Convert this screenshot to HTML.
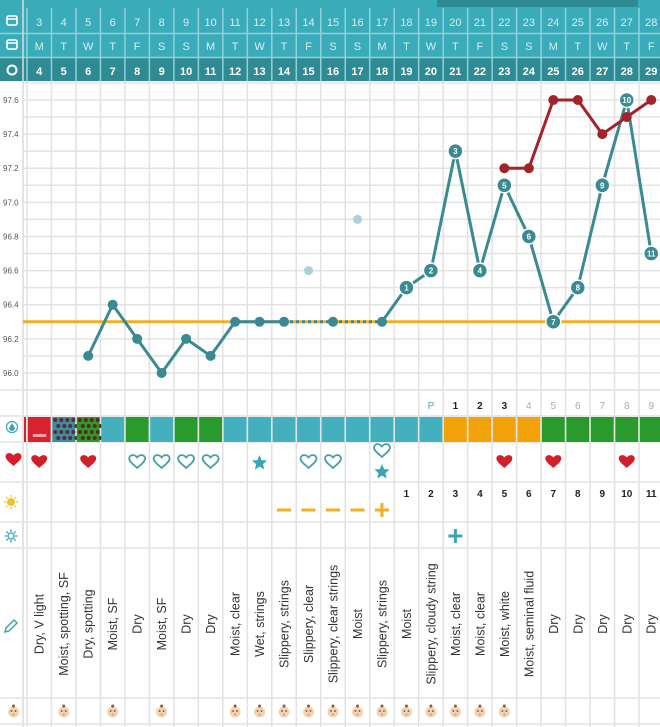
<!DOCTYPE html>
<html><head><style>
body{margin:0;background:#fff;}
svg{display:block;font-family:"Liberation Sans",sans-serif;}
</style></head><body>
<svg width="660" height="727" viewBox="0 0 660 727" xmlns="http://www.w3.org/2000/svg">
<rect x="0" y="0" width="660" height="81" fill="#3aabb8"/>
<rect x="437" y="0" width="201" height="7" fill="#2e8a93"/>
<rect x="0" y="58" width="660" height="23" fill="#2e8a93"/>
<line x1="0" y1="33.5" x2="660" y2="33.5" stroke="#8fd2da" stroke-width="1.5"/>
<line x1="0" y1="57.5" x2="660" y2="57.5" stroke="#8fd2da" stroke-width="1.5"/>
<g id="g"></g>
</svg>
<script>
const S='http://www.w3.org/2000/svg',g=document.getElementById('g');
function el(t,a,txt){const e=document.createElementNS(S,t);for(const k in a)e.setAttribute(k,a[k]);if(txt!==undefined)e.textContent=txt;g.appendChild(e);return e;}
const W=24.48,X0=27,cx=i=>X0+W/2+i*W,ty=t=>100+(97.6-t)*170.6;
for(let i=0;i<=26;i++){const x=X0+i*W;el('line',{x1:x,y1:8,x2:x,y2:81,stroke:'#8fd2da','stroke-width':1.5});el('line',{x1:x,y1:81,x2:x,y2:727,stroke:'#e2e2e2','stroke-width':1.5});}
el('line',{x1:23,y1:0,x2:23,y2:727,stroke:'#dcdcdc','stroke-width':1.5});
for(let k=-1;k<=17;k++){const y=100+k*17.06;el('line',{x1:23,y1:y,x2:660,y2:y,stroke:'#e2e2e2','stroke-width':1.5});}
[390,416,442,482,522,548,698,724].forEach(y=>el('line',{x1:0,y1:y,x2:660,y2:y,stroke:'#e2e2e2','stroke-width':1.5}));
const days=[3,4,5,6,7,8,9,10,11,12,13,14,15,16,17,18,19,20,21,22,23,24,25,26,27,28];
const wd='MTWTFSSMTWTFSSMTWTFSSMTWTF';
for(let i=0;i<26;i++){
el('text',{x:cx(i),y:26,'text-anchor':'middle','font-size':11,fill:'#d5f0f3'},days[i]);
el('text',{x:cx(i),y:50,'text-anchor':'middle','font-size':11,fill:'#d5f0f3'},wd[i]);
el('text',{x:cx(i),y:75,'text-anchor':'middle','font-size':11,'font-weight':'bold',fill:'#fff'},i+4);}
[[12,21],[12,45]].forEach(([x,y])=>{el('rect',{x:x-5,y:y-5,width:10,height:9,rx:1.5,fill:'none',stroke:'#fff','stroke-width':1.6});el('line',{x1:x-5,y1:y-2,x2:x+5,y2:y-2,stroke:'#fff','stroke-width':1.5});});
el('circle',{cx:12,cy:70,r:4.5,fill:'none',stroke:'#fff','stroke-width':2});
for(let k=0;k<=8;k++){const t=(97.6-k*0.2).toFixed(1);el('text',{x:3,y:ty(t)+3,'font-size':8,fill:'#555'},t);}
el('line',{x1:23,y1:ty(96.3),x2:660,y2:ty(96.3),stroke:'#f0b020','stroke-width':3});
const T=[null,null,96.1,96.4,96.2,96.0,96.2,96.1,96.3,96.3,96.3,null,96.3,null,96.3,96.5,96.6,97.3,96.6,97.1,96.8,96.3,96.5,97.1,97.6,96.7];
const TC='#3b8a93';
function seg(a,b,d){el('line',{x1:cx(a),y1:ty(T[a]),x2:cx(b),y2:ty(T[b]),stroke:TC,'stroke-width':3,'stroke-dasharray':d||''});}
for(let i=2;i<10;i++)seg(i,i+1);
seg(10,12,'3,3');seg(12,14,'3,3');
for(let i=14;i<25;i++)seg(i,i+1);
const R={19:97.2,20:97.2,21:97.6,22:97.6,23:97.4,24:97.5,25:97.6};
const RC='#a3232b';
for(let i=19;i<25;i++)el('line',{x1:cx(i),y1:ty(R[i]),x2:cx(i+1),y2:ty(R[i+1]),stroke:RC,'stroke-width':3});
for(const i in R)el('circle',{cx:cx(+i),cy:ty(R[i]),r:5,fill:RC});
el('circle',{cx:cx(11),cy:ty(96.6),r:4.5,fill:'#a9d3d8'});
el('circle',{cx:cx(13),cy:ty(96.9),r:4.5,fill:'#a9d3d8'});
for(let i=0;i<26;i++){if(T[i]==null)continue;
 if(i>=15){const n=i-14;el('circle',{cx:cx(i),cy:ty(T[i]),r:7.5,fill:TC,stroke:'#fff','stroke-width':1.5});el('text',{x:cx(i),y:ty(T[i])+3,'text-anchor':'middle','font-size':8,'font-weight':'bold',fill:'#fff'},n);}
 else el('circle',{cx:cx(i),cy:ty(T[i]),r:5,fill:TC});}
const P=[[16,'P','#4aa9b5',false],[17,'1','#222',true],[18,'2','#222',true],[19,'3','#222',true],[20,'4','#aaa',false],[21,'5','#aaa',false],[22,'6','#aaa',false],[23,'7','#aaa',false],[24,'8','#aaa',false],[25,'9','#aaa',false]];
P.forEach(([i,t,c,b])=>el('text',{x:cx(i),y:409,'text-anchor':'middle','font-size':10,'font-weight':b?'bold':'normal',fill:c},t));
const TE='#45b0bd',GR='#2a9a2c',OR='#f2a20a';
const B=[null,'dotT','dotG',TE,GR,TE,GR,GR,TE,TE,TE,TE,TE,TE,TE,TE,TE,OR,OR,OR,OR,GR,GR,GR,GR,GR];
for(let i=0;i<26;i++){const x=X0+i*W+0.8;
 if(i==0){el('rect',{x:x,y:417,width:W-1.6,height:25,fill:'#d6232f'});el('rect',{x:x+5,y:434,width:W-11,height:3,fill:'#f0a0a0'});continue;}
 if(B[i]=='dotT'||B[i]=='dotG'){el('rect',{x:x,y:417,width:W-1.6,height:25,fill:B[i]=='dotT'?'#3c8e9a':GR});
  for(let r=0;r<4;r++)for(let c=0;c<4;c++){el('circle',{cx:x+3+c*6+(r%2)*3,cy:420+r*6,r:2,fill:B[i]=='dotT'?'#5a2a3a':'#5a2a1a'});}continue;}
 el('rect',{x:x,y:417,width:W-1.6,height:25,fill:B[i]});}
el('rect',{x:24,y:417,width:2,height:25,fill:'#d6232f'});
function heart(i,y,fill){el('path',{d:'M0,5 C-3,2 -8,-1 -8,-4.5 C-8,-8 -3,-9.5 0,-5.5 C3,-9.5 8,-8 8,-4.5 C8,-1 3,2 0,5Z',transform:`translate(${cx(i)},${y})`,fill:fill?'#d21f2b':'#fff',stroke:fill?'none':'#4aa0a8','stroke-width':1.8});}
[0,2,19,21,24].forEach(i=>heart(i,463,true));
[4,5,6,7,11,12].forEach(i=>heart(i,463,false));
heart(14,452,false);
function star(i,y){let p='';for(let k=0;k<10;k++){const r=k%2?3.6:8,a=-Math.PI/2+k*Math.PI/5;p+=(k?'L':'M')+(cx(i)+r*Math.cos(a)).toFixed(1)+','+(y+r*Math.sin(a)).toFixed(1);}el('path',{d:p+'Z',fill:'#3aa6b3'});}
star(9,463);star(14,472);
heart(-1.05,461,true);
for(let n=1;n<=11;n++)el('text',{x:cx(n+14),y:497,'text-anchor':'middle','font-size':10,'font-weight':'bold',fill:'#222'},n);
[10,11,12,13].forEach(i=>el('line',{x1:cx(i)-7,y1:510,x2:cx(i)+7,y2:510,stroke:'#f0b020','stroke-width':3}));
el('line',{x1:cx(14)-7,y1:510,x2:cx(14)+7,y2:510,stroke:'#f0b020','stroke-width':3});
el('line',{x1:cx(14),y1:503,x2:cx(14),y2:517,stroke:'#f0b020','stroke-width':3});
el('line',{x1:cx(17)-7,y1:536,x2:cx(17)+7,y2:536,stroke:'#3aa6b3','stroke-width':3});
el('line',{x1:cx(17),y1:529,x2:cx(17),y2:543,stroke:'#3aa6b3','stroke-width':3});
el('circle',{cx:12,cy:427,r:5.5,fill:'none',stroke:'#3aa6b3','stroke-width':1.2});
el('path',{d:'M12,423 L15,428 A3,3 0 1 1 9,428Z',fill:'#3aa6b3'});
el('circle',{cx:11,cy:502,r:4,fill:'#f0c030'});
for(let k=0;k<8;k++){const a=k*Math.PI/4;el('line',{x1:11+5*Math.cos(a),y1:502+5*Math.sin(a),x2:11+7*Math.cos(a),y2:502+7*Math.sin(a),stroke:'#f0c030','stroke-width':1.3});}
el('circle',{cx:11,cy:536,r:3,fill:'none',stroke:'#3aa6b3','stroke-width':1.3});
for(let k=0;k<8;k++){const a=k*Math.PI/4;el('line',{x1:11+4*Math.cos(a),y1:536+4*Math.sin(a),x2:11+6.5*Math.cos(a),y2:536+6.5*Math.sin(a),stroke:'#3aa6b3','stroke-width':1.3});}
el('path',{d:'M6,628 L14,620 L17,623 L9,631 L5,632Z',fill:'none',stroke:'#3aa6b3','stroke-width':1.5});
const N=['Dry, V light','Moist, spotting, SF','Dry, spotting','Moist, SF','Dry','Moist, SF','Dry','Dry','Moist, clear','Wet, strings','Slippery, strings','Slippery, clear','Slippery, clear strings','Moist','Slippery, strings','Moist','Slippery, cloudy string','Moist, clear','Moist, clear','Moist, white','Moist, seminal fluid','Dry','Dry','Dry','Dry','Dry'];
N.forEach((t,i)=>el('text',{x:0,y:0,transform:`translate(${cx(i)+4.5},624) rotate(-90)`,'text-anchor':'middle','font-size':12.5,fill:'#333'},t));
const babies=[-1.05,1,3,5,8,9,10,11,12,13,14,15,16,17,18,19];
babies.forEach(i=>{const x=cx(i),y=712;el('circle',{cx:x,cy:y,r:5.5,fill:'#f3d2b0'});el('circle',{cx:x,cy:y-6,r:1.5,fill:'#8a5a3a'});el('circle',{cx:x-2,cy:y-1,r:0.9,fill:'#555'});el('circle',{cx:x+2,cy:y-1,r:0.9,fill:'#555'});el('circle',{cx:x,cy:y+2.5,r:1,fill:'#d88'});});
</script>
</body></html>
